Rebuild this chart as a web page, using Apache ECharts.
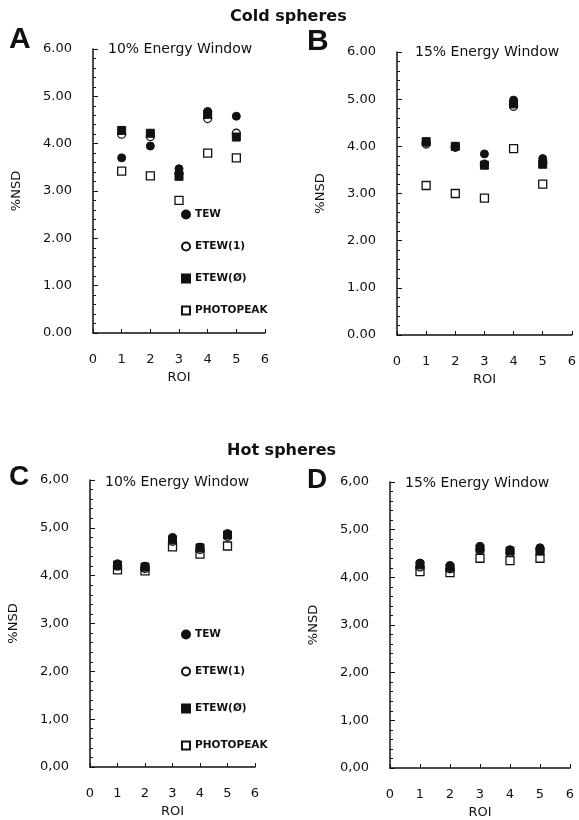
<!DOCTYPE html>
<html>
<head>
<meta charset="utf-8">
<script src="https://cdn.jsdelivr.net/npm/echarts@6/dist/echarts.min.js"></script>
<style>
  html, body { margin: 0; padding: 0; background: #fff; }
  #chart { width: 579px; height: 820px; }
</style>
</head>
<body>
<div id="chart"></div>
<script>
// ROI positions (x axis)
const roi = [1, 2, 3, 4, 5];
const xTicks = [0, 1, 2, 3, 4, 5, 6];
const seriesNames = ['TEW', 'ETEW(1)', 'ETEW(Ø)', 'PHOTOPEAK'];

// A: cold spheres, 10% energy window
const coldTew10 = [3.70, 3.95, 3.47, 4.68, 4.58];
const coldEtew1_10 = [4.20, 4.15, 3.38, 4.53, 4.22];
const coldEtew2_10 = [4.28, 4.22, 3.31, 4.62, 4.14];
const coldPhoto10 = [3.42, 3.32, 2.80, 3.80, 3.70];

// B: cold spheres, 15% energy window
const coldTew15 = [4.08, 4.00, 3.84, 4.98, 3.74];
const coldEtew1_15 = [4.05, 3.98, 3.62, 4.85, 3.65];
const coldEtew2_15 = [4.10, 4.00, 3.60, 4.90, 3.62];
const coldPhoto15 = [3.17, 3.00, 2.90, 3.95, 3.20];

// C: hot spheres, 10% energy window
const hotTew10 = [4.25, 4.20, 4.80, 4.60, 4.88];
const hotEtew1_10 = [4.20, 4.15, 4.72, 4.55, 4.82];
const hotEtew2_10 = [4.22, 4.18, 4.75, 4.58, 4.85];
const hotPhoto10 = [4.12, 4.10, 4.60, 4.45, 4.62];

// D: hot spheres, 15% energy window
const hotTew15 = [4.30, 4.25, 4.65, 4.58, 4.62];
const hotEtew1_15 = [4.22, 4.18, 4.58, 4.52, 4.58];
const hotEtew2_15 = [4.26, 4.20, 4.60, 4.55, 4.55];
const hotPhoto15 = [4.12, 4.10, 4.40, 4.35, 4.40];

const FONT = 'DejaVu Sans';

const grids = [
  { left: 93, top: 49, width: 172, height: 284 },
  { left: 397, top: 52, width: 175, height: 283 },
  { left: 90, top: 480, width: 165, height: 287 },
  { left: 390, top: 482, width: 180, height: 291 }
];

const xAxisFor = (i) => ({
  type: 'value',
  gridIndex: i,
  min: xTicks[0],
  max: xTicks[xTicks.length - 1],
  interval: 1,
  name: 'ROI',
  nameLocation: 'middle',
  nameGap: 38,
  nameTextStyle: { color: '#111', fontFamily: FONT, fontSize: 13 },
  axisLine: { lineStyle: { color: '#111', width: 1.5 } },
  axisTick: { inside: true, length: 4, lineStyle: { color: '#111' } },
  splitLine: { show: false },
  axisLabel: { color: '#111', fontFamily: FONT, fontSize: 13, margin: 20 }
});

const yAxisFor = (i, sep) => ({
  type: 'value',
  gridIndex: i,
  min: 0,
  max: 6,
  interval: 1,
  name: '%NSD',
  nameLocation: 'middle',
  nameRotate: 90,
  nameGap: 70,
  nameTextStyle: { color: '#111', fontFamily: FONT, fontSize: 13 },
  axisLine: { show: true, lineStyle: { color: '#111', width: 1.5 } },
  axisTick: { show: true, inside: true, length: 5, lineStyle: { color: '#111' } },
  minorTick: { show: true, splitNumber: 5, length: 3, lineStyle: { color: '#111' } },
  splitLine: { show: false },
  axisLabel: {
    color: '#111', fontFamily: FONT, fontSize: 13, margin: 21,
    formatter: (v) => v.toFixed(2).replace('.', sep)
  }
});

const filled = { color: '#111', borderColor: '#111', borderWidth: 1, opacity: 1 };
const open = { color: '#fff', borderColor: '#111', borderWidth: 1.3, opacity: 1 };

const makeSeries = (i, tew, etew1, etew2, photo) => [
  { name: 'PHOTOPEAK', values: photo, symbol: 'rect', size: 8, style: open },
  { name: 'ETEW(1)', values: etew1, symbol: 'circle', size: 8, style: open },
  { name: 'ETEW(Ø)', values: etew2, symbol: 'rect', size: 8, style: filled },
  { name: 'TEW', values: tew, symbol: 'circle', size: 8, style: filled }
].map((s) => ({
  name: s.name,
  type: 'scatter',
  xAxisIndex: i,
  yAxisIndex: i,
  symbol: s.symbol,
  symbolSize: s.size,
  itemStyle: s.style,
  data: roi.map((r, k) => [r, s.values[k]])
}));

const legendFor = (top, gap) => ({
  orient: 'vertical',
  left: 176,
  top: top,
  itemWidth: 8,
  itemHeight: 8,
  itemGap: gap,
  data: seriesNames,
  textStyle: { color: '#111', fontFamily: FONT, fontSize: 10.5, fontWeight: 'bold', padding: [0, 0, 0, 0] }
});

const text = (x, y, str, size, bold, family) => ({
  type: 'text',
  x: x,
  y: y,
  style: {
    text: str,
    fill: '#111',
    fontFamily: family || FONT,
    fontSize: size,
    fontWeight: bold ? 'bold' : 'normal',
    align: 'left',
    verticalAlign: 'middle'
  }
});

const chart = echarts.init(document.getElementById('chart'));
chart.setOption({
  animation: false,
  backgroundColor: '#fff',
  grid: grids,
  xAxis: [0, 1, 2, 3].map(xAxisFor),
  yAxis: [yAxisFor(0, '.'), yAxisFor(1, '.'), yAxisFor(2, ','), yAxisFor(3, ',')],
  legend: [legendFor(204, 21), legendFor(624, 26)],
  graphic: [
    text(230, 17, 'Cold spheres', 16, true),
    text(227, 451, 'Hot spheres', 16, true),
    text(9, 40, 'A', 30, true, 'Liberation Sans'),
    text(307, 42, 'B', 30, true, 'Liberation Sans'),
    text(9, 477, 'C', 28, true, 'Liberation Sans'),
    text(307, 480, 'D', 28, true, 'Liberation Sans'),
    text(108, 49, '10% Energy Window', 14, false),
    text(415, 52, '15% Energy Window', 14, false),
    text(105, 482, '10% Energy Window', 14, false),
    text(405, 483, '15% Energy Window', 14, false)
  ],
  series: [
    ...makeSeries(0, coldTew10, coldEtew1_10, coldEtew2_10, coldPhoto10),
    ...makeSeries(1, coldTew15, coldEtew1_15, coldEtew2_15, coldPhoto15),
    ...makeSeries(2, hotTew10, hotEtew1_10, hotEtew2_10, hotPhoto10),
    ...makeSeries(3, hotTew15, hotEtew1_15, hotEtew2_15, hotPhoto15)
  ]
});
</script>
</body>
</html>
